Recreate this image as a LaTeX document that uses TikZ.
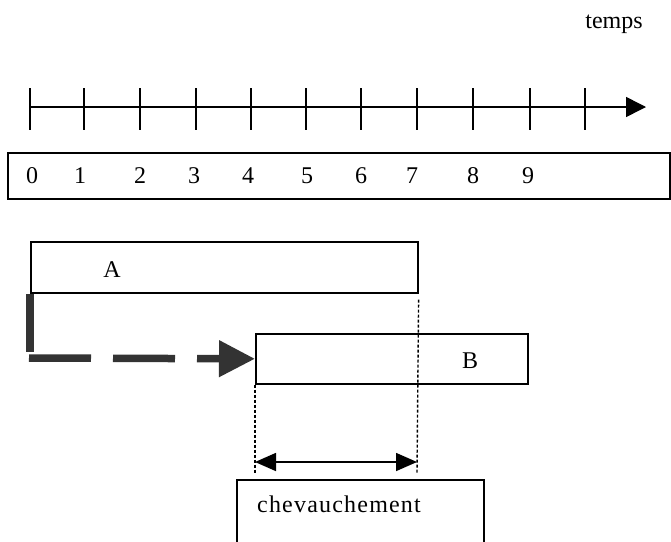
\documentclass[tikz,border=0pt]{standalone}
\usepackage{fontspec}
\setmainfont{Liberation Serif}
\usetikzlibrary{arrows.meta,calc}
\begin{document}
\begin{tikzpicture}[x=1pt,y=-1pt,
  box/.style={draw=black,line width=1.6pt,rectangle,inner sep=0pt,anchor=north west},
  lbl/.style={font=\fontsize{24}{28}\selectfont,inner sep=0pt,anchor=base},
  tick/.style={line width=1.5pt},
  axis/.style={line width=1.5pt,-{Triangle[length=20pt,width=20pt]}},
  depend/.style={draw=black!80,line width=7.5pt},
  dependdash/.style={depend,dash pattern=on 62pt off 22pt,-{Triangle[length=36pt,width=35pt]}},
  guide/.style={line width=1.4pt,dash pattern=on 3pt off 2pt},
  span/.style={line width=1.6pt,{Triangle[length=21pt,width=18pt]}-{Triangle[length=21pt,width=18pt]}}]
\clip (0,0) rectangle (671,541);

% time axis
\coordinate (t0) at (30,107);
\coordinate (tend) at (646,107);
\draw[axis] (t0) -- (tend);
\foreach \x in {30,84,140,196,251,306,361,417,473,530,585}
  \draw[tick] (\x,88) -- (\x,130);
\node[lbl] (temps) at (614,28) {temps};

% scale of units
\node[box,minimum width=662pt,minimum height=46pt] (scale) at (7,152) {};
\foreach \d/\x in {0/32,1/80,2/140,3/194,4/248,5/307,6/361,7/412,8/473,9/528}
  \node[lbl] (n\d) at (\x,183) {\d};

% tasks
\node[box,minimum width=387pt,minimum height=51pt] (A) at (30,241) {};
\node[lbl] (Alabel) at (112,277) {A};
\node[box,minimum width=272pt,minimum height=50pt] (B) at (255,333) {};
\node[lbl] (Blabel) at (470,368) {B};

% dependency A -> B
\coordinate (bend) at (30,358);
\draw[depend] (A.south west) -- ($(bend)+(0,-6)$);
\draw[dependdash] ($(bend)+(-1,0)$) -- (B.west);

% overlap guides
\coordinate (ovL) at (255,462);
\coordinate (ovR) at (417,462);
\draw[guide] ($(A.south east)+(0,6)$) -- ($(ovR)+(0,11)$);
\draw[guide] (B.south west) -- ($(ovL)+(0,11)$);
\draw[span] (ovL) -- (ovR);

% overlap label
\node[box,minimum width=247pt,minimum height=80pt] (chev) at (236,479) {};
\node[lbl,anchor=base west,font=\fontsize{24}{28}\selectfont\addfontfeature{LetterSpace=5}] (chevlabel) at (257,512) {chevauchement};
\end{tikzpicture}
\end{document}
